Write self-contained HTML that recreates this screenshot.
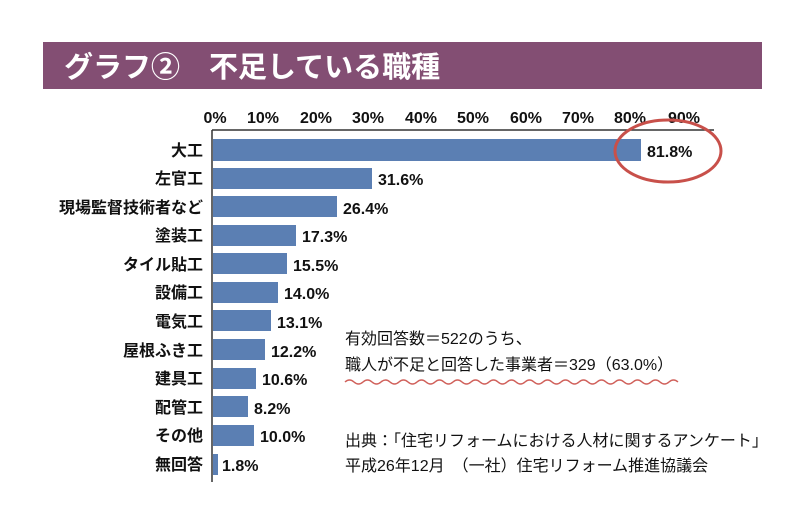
<!DOCTYPE html><html><head><meta charset="utf-8"><style>
body{margin:0;background:#fff;width:798px;height:508px;overflow:hidden;font-family:"Liberation Sans","Noto Sans CJK JP",sans-serif}
</style></head><body>
<svg width="798" height="508" xmlns="http://www.w3.org/2000/svg" font-family="Liberation Sans, Noto Sans CJK JP, sans-serif">
<rect x="43" y="42" width="719" height="47" fill="#834e73"/>
<text x="64" y="77" fill="#fff" font-size="29" font-weight="bold">グラフ②　不足している職種</text>
<g font-size="16" fill="#111" text-anchor="middle" font-weight="bold">
<text x="215" y="123">0%</text><text x="263" y="123">10%</text><text x="316" y="123">20%</text><text x="368" y="123">30%</text><text x="421" y="123">40%</text><text x="473" y="123">50%</text><text x="526" y="123">60%</text><text x="578" y="123">70%</text><text x="630" y="123">80%</text><text x="684" y="123">90%</text>
</g>
<line x1="212" y1="130" x2="714" y2="130" stroke="#333" stroke-width="1.5"/>
<line x1="212" y1="130" x2="212" y2="482" stroke="#333" stroke-width="1.5"/>
<g fill="#5b7fb3">
<rect x="213" y="139" width="428" height="22"/>
<rect x="213" y="168" width="159" height="21"/>
<rect x="213" y="196" width="124" height="21"/>
<rect x="213" y="225" width="83" height="21"/>
<rect x="213" y="253" width="74" height="21"/>
<rect x="213" y="282" width="65" height="21"/>
<rect x="213" y="310" width="58" height="21"/>
<rect x="213" y="339" width="52" height="21"/>
<rect x="213" y="368" width="43" height="21"/>
<rect x="213" y="396" width="35" height="21"/>
<rect x="213" y="425" width="41" height="21"/>
<rect x="213" y="454" width="5" height="21"/>
</g>
<g font-size="16" fill="#111" text-anchor="end" font-weight="bold">
<text x="203" y="156">大工</text><text x="203" y="184">左官工</text><text x="203" y="213">現場監督技術者など</text><text x="203" y="241">塗装工</text><text x="203" y="270">タイル貼工</text><text x="203" y="298">設備工</text><text x="203" y="327">電気工</text><text x="203" y="356">屋根ふき工</text><text x="203" y="384">建具工</text><text x="203" y="413">配管工</text><text x="203" y="441">その他</text><text x="203" y="470">無回答</text>
</g>
<g font-size="16" fill="#111" font-weight="bold">
<text x="647" y="157">81.8%</text><text x="378" y="185">31.6%</text><text x="343" y="214">26.4%</text><text x="302" y="242">17.3%</text><text x="293" y="271">15.5%</text><text x="284" y="299">14.0%</text><text x="277" y="328">13.1%</text><text x="271" y="357">12.2%</text><text x="262" y="385">10.6%</text><text x="254" y="414">8.2%</text><text x="260" y="442">10.0%</text><text x="222" y="471">1.8%</text>
</g>
<ellipse cx="668" cy="151" rx="53" ry="31" fill="none" stroke="#c8504a" stroke-width="3"/>
<g font-size="16" fill="#111">
<text x="345" y="344">有効回答数＝522のうち、</text>
<text x="345" y="370">職人が不足と回答した事業者＝329（63.0%）</text>
<text x="345" y="446">出典：「住宅リフォームにおける人材に関するアンケート」</text>
<text x="345" y="471">平成26年12月　（一社）住宅リフォーム推進協議会</text>
</g>
<path d="M345 382 q4.5 -4 9 0 t9 0 t9 0 t9 0 t9 0 t9 0 t9 0 t9 0 t9 0 t9 0 t9 0 t9 0 t9 0 t9 0 t9 0 t9 0 t9 0 t9 0 t9 0 t9 0 t9 0 t9 0 t9 0 t9 0 t9 0 t9 0 t9 0 t9 0 t9 0 t9 0 t9 0 t9 0 t9 0 t9 0 t9 0 t9 0 t9 0" fill="none" stroke="#d0605a" stroke-width="1.5"/>
</svg>
</body></html>
